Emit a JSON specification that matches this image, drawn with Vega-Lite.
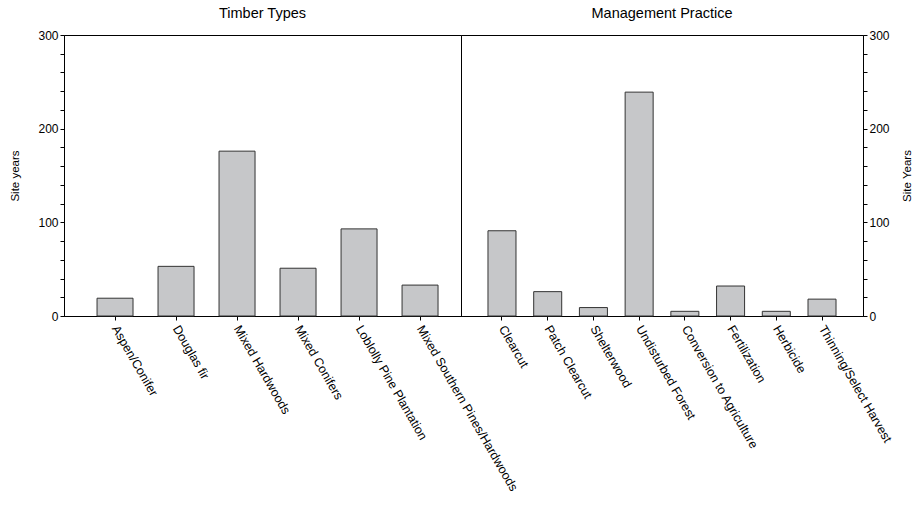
{
  "$schema": "https://vega.github.io/schema/vega-lite/v6.json",
  "padding": {"left": 9, "top": 5, "right": 5, "bottom": 5},
  "spacing": 0,
  "bounds": "flush",
  "config": {
    "font": "Liberation Sans",
    "view": {"stroke": "#000000", "strokeWidth": 1},
    "axis": {
      "domainColor": "#000000",
      "tickColor": "#000000",
      "labelColor": "#000000",
      "titleColor": "#000000",
      "labelFont": "Liberation Sans",
      "titleFont": "Liberation Sans",
      "labelFontSize": 12,
      "titleFontSize": 11.5,
      "titleFontWeight": "normal",
      "grid": false,
      "tickSize": 4
    },
    "title": {"font": "Liberation Sans", "fontSize": 14.5, "fontWeight": "normal", "color": "#000000"}
  },
  "datasets": {
    "timber": [
      {"type": "Aspen/Conifer", "years": 19},
      {"type": "Douglas fir", "years": 53},
      {"type": "Mixed Hardwoods", "years": 176},
      {"type": "Mixed Conifers", "years": 51},
      {"type": "Loblolly Pine Plantation", "years": 93},
      {"type": "Mixed Southern Pines/Hardwoods", "years": 33}
    ],
    "mgmt": [
      {"practice": "Clearcut", "years": 91},
      {"practice": "Patch Clearcut", "years": 26},
      {"practice": "Shelterwood", "years": 9},
      {"practice": "Undisturbed Forest", "years": 239},
      {"practice": "Conversion to Agriculture", "years": 5},
      {"practice": "Fertilization", "years": 32},
      {"practice": "Herbicide", "years": 5},
      {"practice": "Thinning/Select Harvest", "years": 18}
    ]
  },
  "hconcat": [
    {
      "title": {"text": "Timber Types", "offset": 8},
      "width": 397,
      "height": 281,
      "data": {"name": "timber"},
      "mark": {"type": "bar", "fill": "#c6c7c9", "stroke": "#333333", "strokeWidth": 1},
      "encoding": {
        "x": {
          "field": "type", "type": "nominal", "sort": null,
          "scale": {"paddingInner": 0.41, "paddingOuter": 0.459, "align": 0.59},
          "axis": {"title": null, "labelAngle": 60, "labelAlign": "left", "labelBaseline": "middle", "labelPadding": 6, "labelLimit": 300, "labelFontSize": 12.5}
        },
        "y": {
          "field": "years", "type": "quantitative",
          "scale": {"domain": [0, 300], "nice": false},
          "axis": {"title": "Site years", "values": [0,20,40,60,80,100,120,140,160,180,200,220,240,260,280,300], "labelExpr": "datum.value % 100 === 0 ? datum.label : ''", "labelOverlap": false, "titlePadding": 17}
        }
      }
    },
    {
      "title": {"text": "Management Practice", "offset": 8},
      "width": 402,
      "height": 281,
      "data": {"name": "mgmt"},
      "mark": {"type": "bar", "fill": "#c6c7c9", "stroke": "#333333", "strokeWidth": 1},
      "encoding": {
        "x": {
          "field": "practice", "type": "nominal", "sort": null,
          "scale": {"paddingInner": 0.387, "paddingOuter": 0.59},
          "axis": {"title": null, "labelAngle": 60, "labelAlign": "left", "labelBaseline": "middle", "labelPadding": 6, "labelLimit": 300, "labelFontSize": 12.5}
        },
        "y": {
          "field": "years", "type": "quantitative",
          "scale": {"domain": [0, 300], "nice": false},
          "axis": {"orient": "right", "title": "Site Years", "titleAngle": 270, "values": [0,20,40,60,80,100,120,140,160,180,200,220,240,260,280,300], "labelExpr": "datum.value % 100 === 0 ? datum.label : ''", "labelOverlap": false, "titlePadding": 23}
        }
      }
    }
  ]
}
